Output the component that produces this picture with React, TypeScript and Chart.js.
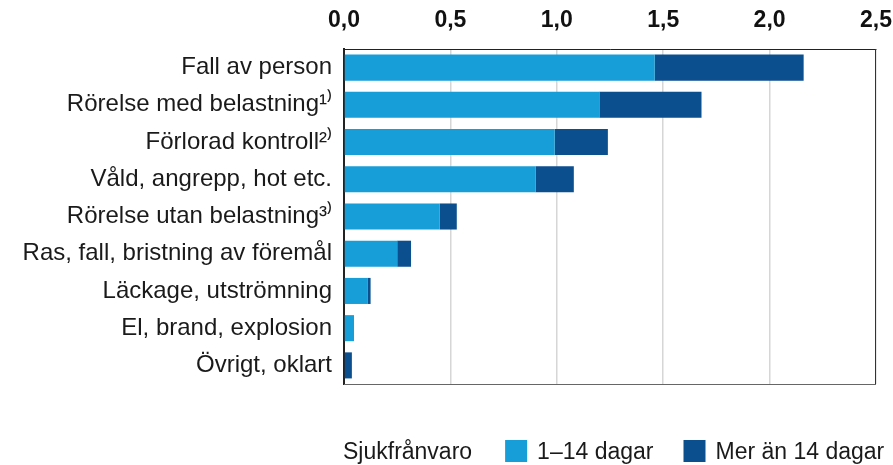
import React, { useEffect, useRef } from "react";
import { Chart, registerables } from "chart.js";

Chart.register(...registerables);

const categories = [
  "Fall av person",
  "Rörelse med belastning¹⁾",
  "Förlorad kontroll²⁾",
  "Våld, angrepp, hot etc.",
  "Rörelse utan belastning³⁾",
  "Ras, fall, bristning av föremål",
  "Läckage, utströmning",
  "El, brand, explosion",
  "Övrigt, oklart",
];
const shortAbsence = [1.46, 1.2, 0.99, 0.9, 0.45, 0.25, 0.11, 0.047, 0.0];
const longAbsence = [0.7, 0.48, 0.25, 0.18, 0.08, 0.065, 0.015, 0.0, 0.037];
const seriesLabels = ["1–14 dagar", "Mer än 14 dagar"];
const legendTitle = "Sjukfrånvaro";
const tickValues = [0, 0.5, 1.0, 1.5, 2.0, 2.5];

const LIGHT = "#179ED8";
const DARK = "#0B4F8F";
const FONT = "'Liberation Sans', Arial, sans-serif";

const framePlugin = {
  id: "frameAndLegend",
  afterDraw(chart: any) {
    const { ctx, chartArea } = chart;
    ctx.save();
    ctx.lineWidth = 1;
    ctx.strokeStyle = "#333";
    ctx.beginPath();
    ctx.moveTo(chartArea.right - 0.5, chartArea.top);
    ctx.lineTo(chartArea.right - 0.5, chartArea.bottom);
    ctx.stroke();
    ctx.strokeStyle = "#666";
    ctx.beginPath();
    ctx.moveTo(chartArea.left, chartArea.bottom + 0.5);
    ctx.lineTo(chartArea.right, chartArea.bottom + 0.5);
    ctx.stroke();

    // legend
    ctx.font = `23px ${FONT}`;
    ctx.fillStyle = "#1a1a1a";
    ctx.textBaseline = "middle";
    ctx.textAlign = "left";
    const y = 453;
    let x = chartArea.left - 1;
    ctx.fillText(legendTitle, x, y);
    x += ctx.measureText(legendTitle).width + 33;
    chart.data.datasets.forEach((ds: any) => {
      ctx.fillStyle = ds.backgroundColor;
      ctx.fillRect(x, y - 13, 22, 22);
      x += 22 + 10;
      ctx.fillStyle = "#1a1a1a";
      ctx.fillText(ds.label, x, y);
      x += ctx.measureText(ds.label).width + 30;
    });
    ctx.restore();
  },
};

export default function App() {
  const ref = useRef<HTMLCanvasElement>(null);
  useEffect(() => {
    if (!ref.current) return;
    const chart = new Chart(ref.current, {
      type: "bar",
      data: {
        labels: categories,
        datasets: [
          {
            label: seriesLabels[0],
            data: shortAbsence,
            backgroundColor: LIGHT,
            barPercentage: 0.7,
            categoryPercentage: 1,
          },
          {
            label: seriesLabels[1],
            data: longAbsence,
            backgroundColor: DARK,
            barPercentage: 0.7,
            categoryPercentage: 1,
          },
        ],
      },
      options: {
        indexAxis: "y",
        responsive: false,
        animation: false,
        layout: { padding: { left: 0, right: 17, top: 0, bottom: 81 } },
        plugins: { legend: { display: false }, tooltip: { enabled: false } },
        scales: {
          x: {
            position: "top",
            stacked: true,
            min: 0,
            max: 2.5,
            afterBuildTicks: (scale: any) => {
              scale.ticks = tickValues.map((v) => ({ value: v }));
            },
            afterFit: (scale: any) => {
              scale.height = 49;
              scale.paddingLeft = 0;
              scale.paddingRight = 0;
            },
            ticks: {
              padding: 15,
              color: "#111",
              font: { family: FONT, size: 23, weight: "bold" },
              callback: (v: any) => Number(v).toFixed(1).replace(".", ","),
            },
            grid: {
              drawTicks: false,
              lineWidth: 1.5,
              color: (c: any) => (c.index === 0 ? "#222" : "#d6d6d6"),
            },
            border: { display: true, color: "#222", width: 1 },
          },
          y: {
            stacked: true,
            afterFit: (scale: any) => {
              scale.width = 344;
              scale.paddingTop = 0;
              scale.paddingBottom = 0;
            },
            grid: { display: false, drawTicks: false },
            border: { display: true, color: "#222", width: 2 },
            ticks: {
              padding: 12,
              color: "#1a1a1a",
              font: { family: FONT, size: 24 },
            },
          },
        },
      },
      plugins: [framePlugin],
    });
    return () => chart.destroy();
  }, []);
  return (
    <div style={{ position: "fixed", left: 0, top: 0, width: 893, height: 465 }}>
      <canvas ref={ref} width={893} height={465} />
    </div>
  );
}
